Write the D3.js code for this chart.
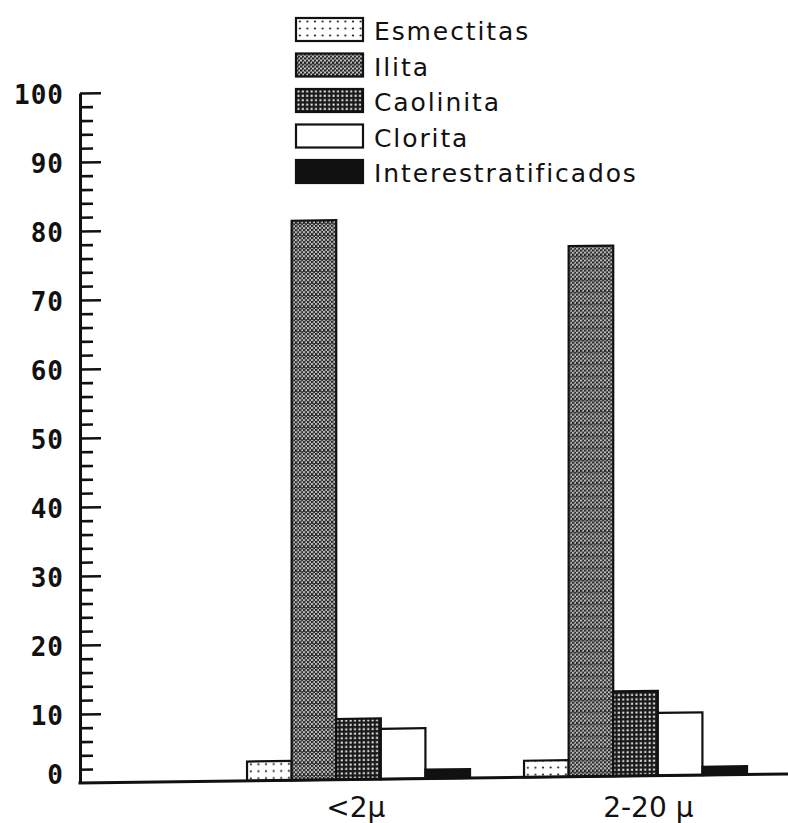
<!DOCTYPE html>
<html>
<head>
<meta charset="utf-8">
<script src="https://cdn.jsdelivr.net/npm/d3@7/dist/d3.min.js"></script>
<style>
  html, body { margin: 0; padding: 0; background: #fff; }
  svg { display: block; }
  .lbl { font-family: "DejaVu Sans", sans-serif; fill: #111; }
  .ytick { font-family: "DejaVu Sans Mono", monospace; font-weight: bold; fill: #111; }
</style>
</head>
<body>
<svg id="chart" width="788" height="823"></svg>
<script>
// Clay mineral composition (%) by grain-size fraction
const categories = ["<2\u03bc", "2-20 \u03bc"];
const minerals = ["Esmectitas", "Ilita", "Caolinita", "Clorita", "Interestratificados"];
const fractionFine = [2.8, 81.1, 8.8, 7.3, 1.3];    // <2 µm
const fractionCoarse = [2.4, 76.9, 12.3, 9.1, 1.2]; // 2-20 µm
const majorTicks = [0, 10, 20, 30, 40, 50, 60, 70, 80, 90, 100];
const minorTicks = d3.range(2, 100, 2).filter(v => v % 10 !== 0);

const seriesValues = [fractionFine, fractionCoarse];
const rows = categories.map((c, i) => ({
  category: c,
  items: minerals.map((m, j) => ({ mineral: m, value: seriesValues[i][j] }))
}));

const svg = d3.select("#chart");
const W = 788, H = 823;
const axisX = 80;

const y = d3.scaleLinear().domain([0, 100]).range([783, 93]);
const x = d3.scaleBand().domain(categories)
  .range([axisX, W]).paddingInner(0.195).paddingOuter(0.3755).align(0.803);
const xs = d3.scaleBand().domain(minerals).range([0, x.bandwidth()]);

// Fill patterns
const defs = svg.append("defs");
// Esmectitas: sparse dots on white
const pE = defs.append("pattern").attr("id", "pat-Esmectitas")
  .attr("patternUnits", "userSpaceOnUse").attr("width", 7.6).attr("height", 7);
pE.append("rect").attr("width", 7.6).attr("height", 7).attr("fill", "#fff");
pE.append("circle").attr("cx", 3.8).attr("cy", 3.5).attr("r", 1.1).attr("fill", "#222");
// Ilita: fine stipple (mid-dark grey) with faint horizontal banding
const pI = defs.append("pattern").attr("id", "pat-Ilita")
  .attr("patternUnits", "userSpaceOnUse").attr("width", 4).attr("height", 12);
pI.append("rect").attr("width", 4).attr("height", 12).attr("fill", "#c4c4c4");
for (let r = 0; r < 12; r += 4) {
  pI.append("rect").attr("x", 0).attr("y", r).attr("width", 2).attr("height", 2).attr("fill", "#1e1e1e");
  pI.append("rect").attr("x", 2).attr("y", r + 2).attr("width", 2).attr("height", 2).attr("fill", "#2a2a2a");
  pI.append("rect").attr("x", 2).attr("y", r).attr("width", 1).attr("height", 1).attr("fill", "#555");
}
pI.append("rect").attr("x", 0).attr("y", 10).attr("width", 4).attr("height", 1).attr("fill", "#3a3a3a");
// Caolinita: dark grid with small white holes
const pC = defs.append("pattern").attr("id", "pat-Caolinita")
  .attr("patternUnits", "userSpaceOnUse").attr("width", 4.4).attr("height", 4.4);
pC.append("rect").attr("width", 4.4).attr("height", 4.4).attr("fill", "#1a1a1a");
pC.append("rect").attr("x", 1.4).attr("y", 1.4).attr("width", 2).attr("height", 2).attr("fill", "#eee");

const fills = {
  "Esmectitas": "url(#pat-Esmectitas)",
  "Ilita": "url(#pat-Ilita)",
  "Caolinita": "url(#pat-Caolinita)",
  "Clorita": "#fff",
  "Interestratificados": "#111"
};

// Plot area (slightly sheared, as in the plotted original)
const plot = svg.append("g")
  .attr("transform", `translate(${axisX},${y(0)}) skewY(-0.73) translate(${-axisX},${-y(0)})`);

// Bars
const groups = plot.selectAll("g.grp").data(rows).join("g")
  .attr("class", "grp")
  .attr("transform", d => `translate(${x(d.category)},0)`);
groups.selectAll("rect").data(d => d.items).join("rect")
  .attr("x", d => xs(d.mineral))
  .attr("y", d => y(d.value))
  .attr("width", xs.bandwidth())
  .attr("height", d => y(0) - y(d.value))
  .attr("fill", d => fills[d.mineral])
  .attr("stroke", "#111")
  .attr("stroke-width", 2.2);

// Y axis with inward ticks
const axMajor = plot.append("g").attr("transform", `translate(${axisX},0)`)
  .call(d3.axisRight(y).tickValues(majorTicks).tickSize(21).tickSizeOuter(0).tickFormat(""));
const axMinor = plot.append("g").attr("transform", `translate(${axisX},0)`)
  .call(d3.axisRight(y).tickValues(minorTicks).tickSize(13).tickSizeOuter(0).tickFormat(""));
axMinor.select(".domain").remove();
axMajor.select(".domain").attr("stroke", "#111").attr("stroke-width", 3);
[axMajor, axMinor].forEach(a => a.selectAll(".tick line").attr("stroke", "#111").attr("stroke-width", 2.6));
axMajor.select(".tick line").filter(d => d === 0).remove();

// Baseline
plot.append("line")
  .attr("x1", axisX - 1.5).attr("x2", W)
  .attr("y1", y(0)).attr("y2", y(0))
  .attr("stroke", "#111").attr("stroke-width", 3);

// Tick labels
svg.append("g").selectAll("text").data(majorTicks).join("text")
  .attr("class", "ytick")
  .attr("x", 64)
  .attr("y", d => d === 0 ? y(d) - 8 : y(d) + 2)
  .attr("dominant-baseline", "central")
  .attr("text-anchor", "end")
  .attr("font-size", 26)
  .attr("letter-spacing", 1)
  .text(d => d);

// Category labels, set in from the left edge of each group
svg.append("g").selectAll("text").data(categories).join("text")
  .attr("class", "lbl")
  .attr("x", d => x(d) + x.bandwidth() * 0.355)
  .attr("y", 817)
  .attr("text-anchor", "start")
  .attr("font-size", 28)
  .text(d => d);

// Legend
const legend = svg.append("g").attr("transform", "translate(296,18)");
const li = legend.selectAll("g").data(minerals).join("g")
  .attr("transform", (d, i) => `translate(0,${i * 35.5})`);
li.append("rect")
  .attr("width", 67).attr("height", 23)
  .attr("fill", d => fills[d])
  .attr("stroke", "#111").attr("stroke-width", 2.2);
li.append("text")
  .attr("class", "lbl")
  .attr("x", 78).attr("y", 22)
  .attr("font-size", 25)
  .attr("letter-spacing", 1.9)
  .text(d => d);
</script>
</body>
</html>
